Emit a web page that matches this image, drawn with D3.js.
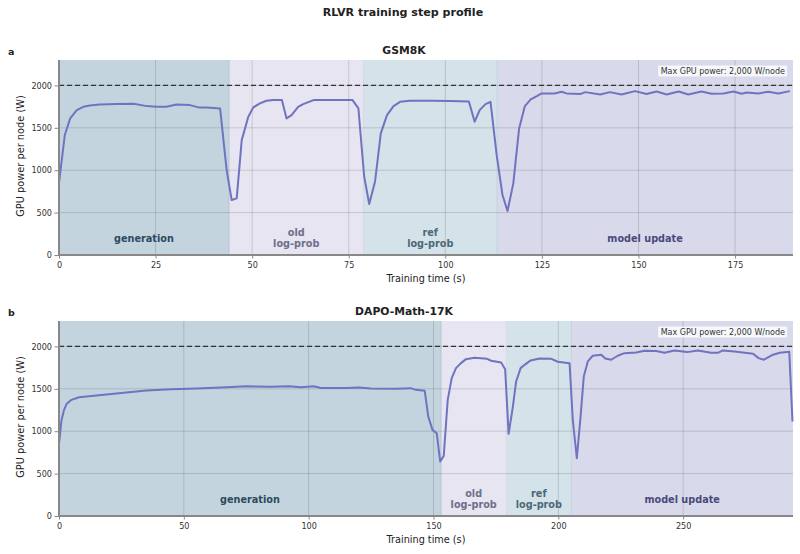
<!DOCTYPE html>
<html>
<head>
<meta charset="utf-8">
<script src="https://cdn.jsdelivr.net/npm/d3@7"></script>
<style>
    body { margin: 0; background: #fff; }
    text { font-family: "DejaVu Sans", sans-serif; }
</style>
</head>
<body>
<div id="chart-area"></div>
<script>
// GSM8K profile (time in s, power in W)
var gsmTime = [0, 1.5, 2.9, 4.6, 6.3, 8, 10.6, 14.9, 19.3, 22.7, 25.2, 27.8, 30.4, 33.9, 36.1, 38.3, 41.7,
    43.4, 44.7, 46, 47.3, 49, 50.3, 52, 53.7, 55.5, 57.7, 58.9, 60.2, 61.9, 63.2, 65.9, 69.3, 73.6, 76,
    77.5, 79, 80.3, 81.8, 83.3, 84.9, 86.6, 88.3, 90.8, 96.8, 101.1, 106.1, 107.6, 108.9, 110.4, 111.7,
    113.3, 114.8, 116.1, 117.6, 119.1, 120.6, 122.1, 123.7, 124.9, 128.3, 130.1, 131.4, 134.9, 136.2,
    140.1, 142.6, 145.6, 149.1, 152.1, 154.7, 157.3, 160.4, 162.9, 166.3, 168.9, 172, 174.6, 176.7,
    178, 181, 183.6, 186.2, 189.2];
var gsmPower = [850, 1415, 1611, 1709, 1748, 1764, 1776, 1780, 1784, 1756, 1748, 1748, 1776, 1768, 1741, 1741, 1729,
    1002, 648, 668, 1355, 1630, 1741, 1788, 1819, 1827, 1827, 1611, 1650, 1748, 1780, 1827, 1827, 1827, 1827,
    1729, 923, 601, 864, 1434, 1650, 1756, 1807, 1819, 1819, 1815, 1811, 1572, 1709, 1780, 1807,
    1179, 707, 519, 845, 1493, 1756, 1835, 1874, 1906, 1906, 1925, 1906, 1898, 1921,
    1894, 1921, 1894, 1933, 1898, 1929, 1894, 1929, 1894, 1929, 1902, 1906, 1929, 1902,
    1917, 1906, 1925, 1906, 1933];

// DAPO-Math-17K profile
var dapoTime = [0, 1, 2, 3, 5, 8, 15, 25, 35, 45, 55, 65, 75, 85, 92, 97, 102, 105, 115, 120, 125, 135,
    140.9, 142.9, 146.5, 147.9, 149.6, 151.3, 152.7, 154.1, 155.7, 157.3, 159, 161, 163, 166.4, 171.5,
    173.1, 177.1, 178.7, 180.1, 181.8, 183.1, 184.9, 186.5, 188.9, 192.5, 197.2, 199.8, 204.5, 205.8,
    207.4, 208.8, 210.2, 211.8, 213.8, 217.2, 218.8, 221.2, 223.8, 226.5, 231.2, 234.5, 239.2, 242.5,
    246.5, 251.6, 255.9, 261.2, 263.9, 265.9, 270.6, 278, 280.2, 282.4, 286, 288.7, 292.5, 293.8];
var dapoPower = [850, 1130, 1250, 1320, 1370, 1400, 1420, 1450, 1480, 1495, 1505, 1515, 1530, 1525, 1530, 1520, 1530, 1510, 1510, 1515, 1505, 1500,
    1508, 1488, 1476, 1173, 1016, 976, 642, 709, 1370, 1626, 1744, 1803, 1850, 1866, 1854,
    1831, 1811, 1732, 969, 1291, 1587, 1744, 1783, 1835, 1858, 1854, 1819, 1803, 1134,
    681, 1134, 1646, 1823, 1890, 1902, 1858, 1843, 1890, 1921, 1929, 1949, 1945, 1925,
    1953, 1933, 1953, 1925, 1925, 1953, 1941, 1913, 1862, 1843, 1902, 1925, 1937, 1114];

// Phase boundaries (s)
var phaseNames = ["generation", "old|log-prob", "ref|log-prob", "model update"];
var gsmEdges = [0, 44, 78.8, 113.4, 190];
var dapoEdges = [0, 153, 179.2, 205.2, 294];

var maxPower = 2000;
var yTicks = [0, 500, 1000, 1500, 2000];
var gsmTicks = [0, 25, 50, 75, 100, 125, 150, 175];
var dapoTicks = [0, 50, 100, 150, 200, 250];

var phaseFill = ["#c4d4de", "#e6e5f1", "#d4e2e9", "#d8d9eb"];
var phaseEdge = ["#b4c6d2", "#d8d7e8", "#c2d3dc", "#c9cae2"];
var phaseText = ["#2d4a60", "#6f6f8a", "#4d6878", "#4a4a7a"];

var W = 800, H = 554;
var svg = d3.select("#chart-area")
    .append("svg")
        .attr("width", W)
        .attr("height", H);

// Figure title
svg.append("text")
    .attr("x", 403)
    .attr("y", 16)
    .attr("text-anchor", "middle")
    .attr("font-size", "11.1px")
    .attr("font-weight", "bold")
    .attr("fill", "#222")
    .text("RLVR training step profile");

function panel(top, letter, title, times, power, edges, xMax, xTicks) {
    var left = 59, right = 793, height = 195;
    var width = right - left;

    var g = svg.append("g")
        .attr("transform", "translate(" + left + "," + top + ")");

    var x = d3.scaleLinear().domain([0, xMax]).range([0, width]);
    var y = d3.scaleLinear().domain([0, 2300]).range([height, 0]);

    // Panel letter + title
    svg.append("text")
        .attr("x", 8).attr("y", top - 5)
        .attr("font-size", "9.5px").attr("font-weight", "bold")
        .attr("fill", "#222")
        .text(letter);
    svg.append("text")
        .attr("x", 404).attr("y", top - 6)
        .attr("text-anchor", "middle")
        .attr("font-size", "10.8px").attr("font-weight", "bold")
        .attr("fill", "#222")
        .text(title);

    // Phase shading
    var phases = phaseNames.map(function(n, i) {
        return { name: n, x0: edges[i], x1: edges[i + 1], i: i };
    });
    g.selectAll("rect.phase")
        .data(phases)
        .enter().append("rect")
            .attr("class", "phase")
            .attr("x", function(d) { return x(d.x0); })
            .attr("y", 0)
            .attr("width", function(d) { return x(d.x1) - x(d.x0); })
            .attr("height", height)
            .attr("fill", function(d) { return phaseFill[d.i]; });
    // phase edges
    g.selectAll("line.edge")
        .data(phases.slice(1))
        .enter().append("line")
            .attr("x1", function(d) { return x(d.x0); })
            .attr("x2", function(d) { return x(d.x0); })
            .attr("y1", 0).attr("y2", height)
            .attr("stroke", function(d) { return phaseEdge[d.i - 1]; })
            .attr("stroke-width", 1);

    // Grid
    g.selectAll("line.gx")
        .data(xTicks.slice(1))
        .enter().append("line")
            .attr("x1", function(d) { return x(d); })
            .attr("x2", function(d) { return x(d); })
            .attr("y1", 0).attr("y2", height)
            .attr("stroke", "#000").attr("stroke-opacity", 0.14);
    g.selectAll("line.gy")
        .data(yTicks.slice(1))
        .enter().append("line")
            .attr("x1", 0).attr("x2", width)
            .attr("y1", function(d) { return y(d); })
            .attr("y2", function(d) { return y(d); })
            .attr("stroke", "#000").attr("stroke-opacity", 0.14);

    // Phase labels
    phases.forEach(function(d) {
        var lines = d.name.split("|");
        var cx = x((d.x0 + d.x1) / 2);
        var t = g.append("text")
            .attr("x", cx)
            .attr("text-anchor", "middle")
            .attr("font-size", "9.7px")
            .attr("font-weight", "bold")
            .attr("fill", phaseText[d.i]);
        if (lines.length == 1) {
            t.attr("y", height - 13.3).text(lines[0]);
        } else {
            t.append("tspan").attr("x", cx).attr("y", height - 19).text(lines[0]);
            t.append("tspan").attr("x", cx).attr("y", height - 8).text(lines[1]);
        }
    });

    // Max power line
    g.append("line")
        .attr("x1", 0).attr("x2", width)
        .attr("y1", y(maxPower)).attr("y2", y(maxPower))
        .attr("stroke", "#333")
        .attr("stroke-width", 1.2)
        .attr("stroke-dasharray", "5,3");

    // Power trace
    var pts = times.map(function(t, i) { return [t, power[i]]; });
    var line = d3.line()
        .x(function(d) { return x(d[0]); })
        .y(function(d) { return y(d[1]); });
    g.append("path")
        .datum(pts)
        .attr("d", line)
        .attr("fill", "none")
        .attr("stroke", "#7073c0")
        .attr("stroke-width", 2)
        .attr("stroke-linejoin", "round");

    // Annotation box
    var note = g.append("g")
        .attr("transform", "translate(" + (width - 8) + "," + 13.5 + ")");
    var nt = note.append("text")
        .attr("text-anchor", "end")
        .attr("font-size", "8px")
        .attr("fill", "#333")
        .text("Max GPU power: 2,000 W/node");
    var bb = nt.node().getBBox();
    note.insert("rect", "text")
        .attr("x", bb.x - 2.5).attr("y", bb.y - 1)
        .attr("width", bb.width + 4.5).attr("height", bb.height + 2)
        .attr("fill", "#fff").attr("fill-opacity", 0.8);

    // Axes
    var yAxis = g.append("g").call(
        d3.axisLeft(y).tickValues(yTicks).tickFormat(d3.format("d")).tickSize(4.5).tickPadding(2.5));
    var xAxis = g.append("g")
        .attr("transform", "translate(0," + height + ")")
        .call(d3.axisBottom(x).tickValues(xTicks).tickSize(3.5).tickPadding(4));
    [yAxis, xAxis].forEach(function(a) {
        a.select(".domain").attr("stroke", "#888").attr("stroke-width", 2);
        a.selectAll(".tick line").attr("stroke", "#888");
        a.selectAll(".tick text")
            .attr("font-family", "DejaVu Sans")
            .attr("font-size", "8.1px")
            .attr("fill", "#333");
    });
    // no outer tick ends on spines
    yAxis.select(".domain").attr("d", "M0," + height + "V0");
    xAxis.select(".domain").attr("d", "M0,0H" + width);

    // Axis labels
    g.append("text")
        .attr("x", width / 2)
        .attr("y", height + 27)
        .attr("text-anchor", "middle")
        .attr("font-size", "9.7px")
        .attr("fill", "#222")
        .text("Training time (s)");
    g.append("text")
        .attr("transform", "rotate(-90)")
        .attr("x", -height / 2 + 1.5)
        .attr("y", -35)
        .attr("text-anchor", "middle")
        .attr("font-size", "9.8px")
        .attr("fill", "#222")
        .text("GPU power per node (W)");
}

panel(60, "a", "GSM8K", gsmTime, gsmPower, gsmEdges, 190, gsmTicks);
panel(321, "b", "DAPO-Math-17K", dapoTime, dapoPower, dapoEdges, 294, dapoTicks);
</script>
</body>
</html>
